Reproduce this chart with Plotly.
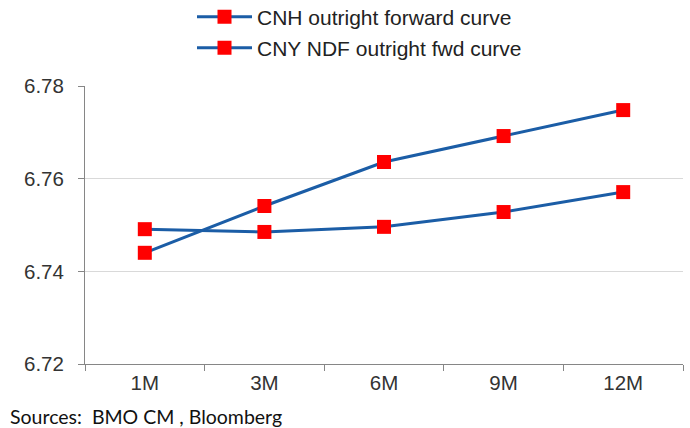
import plotly.graph_objects as go

# Tenors along the forward curve
tenors = ["1M", "3M", "6M", "9M", "12M"]

# Outright forward levels (USD/CNH and USD/CNY NDF)
cnh_outright = [6.7440, 6.7541, 6.7636, 6.7692, 6.7748]
cny_ndf_outright = [6.7491, 6.7485, 6.7496, 6.7528, 6.7571]

y_ticks = [6.72, 6.74, 6.76, 6.78]

W, H = 690, 428
L, R, T, B = 85, 7, 86, 64

line_blue = "#1B5DA6"
marker_red = "#FF0000"
axis_grey = "#868686"
grid_grey = "#D9D9D9"
text_col = "#333333"

fig = go.Figure()

fig.add_trace(go.Scatter(
    x=tenors, y=cnh_outright, mode="lines+markers",
    name="CNH outright forward curve",
    line=dict(color=line_blue, width=3),
    marker=dict(symbol="square", size=14, color=marker_red),
    legend="legend",
))
fig.add_trace(go.Scatter(
    x=tenors, y=cny_ndf_outright, mode="lines+markers",
    name="CNY NDF outright fwd curve",
    line=dict(color=line_blue, width=3),
    marker=dict(symbol="square", size=14, color=marker_red),
    legend="legend2",
))

# container-relative positions so the legends do not push the margins
def cx(px):
    return px / W

def cy(py):
    return 1 - py / H

legend_font = dict(family="Liberation Sans, Arial, sans-serif", size=21, color="#222222")
legend_common = dict(
    font=legend_font, bgcolor="rgba(0,0,0,0)", borderwidth=0,
    xref="container", yref="container",
    xanchor="left", yanchor="middle", itemwidth=55,
)

fig.update_layout(
    width=W, height=H,
    margin=dict(l=L, r=R, t=T, b=B, autoexpand=False),
    paper_bgcolor="white", plot_bgcolor="white",
    showlegend=True,
    legend=dict(x=cx(192), y=cy(17), **legend_common),
    legend2=dict(x=cx(192), y=cy(48), **legend_common),
    font=dict(family="Liberation Sans, Arial, sans-serif", size=20.5, color=text_col),
)

fig.update_xaxes(
    type="category", range=[-0.5, len(tenors) - 0.5],
    tickson="boundaries", ticks="outside", ticklen=6, tickcolor=axis_grey,
    showline=True, linecolor=axis_grey, linewidth=1,
    showgrid=False, zeroline=False,
    tickfont=dict(size=20.5, color=text_col),
)
fig.update_yaxes(
    range=[y_ticks[0], y_ticks[-1]], tickvals=y_ticks,
    ticktext=[f"{v:.2f}" for v in y_ticks],
    ticks="outside", ticklen=6, tickcolor=axis_grey,
    ticklabelstandoff=10,
    showline=True, linecolor=axis_grey, linewidth=1,
    showgrid=True, gridcolor=grid_grey, gridwidth=1, zeroline=False,
    tickfont=dict(size=20.5, color=text_col),
)

fig.add_annotation(
    text="Sources:  BMO CM , Bloomberg",
    xref="paper", yref="paper",
    x=(8 - L) / (W - L - R), y=1 - (416 - T) / (H - T - B),
    xanchor="left", yanchor="middle", showarrow=False,
    font=dict(family="Lato, Open Sans, sans-serif", size=19.5, color="#111111"),
)

fig.write_html("out.html")
